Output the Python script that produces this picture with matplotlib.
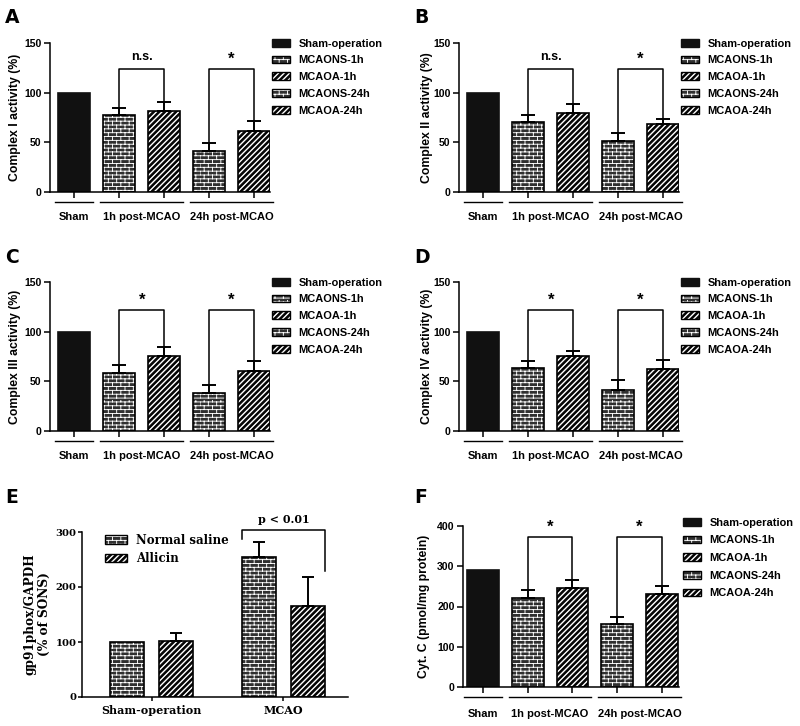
import numpy as np
import matplotlib
matplotlib.use('Agg')
import matplotlib.pyplot as plt
import matplotlib.hatch as mhatch
from matplotlib.path import Path
from matplotlib.patches import Patch

# ---- data ----
series = ['Sham-operation', 'MCAONS-1h', 'MCAOA-1h', 'MCAONS-24h', 'MCAOA-24h']
groups = ['Sham', '1h post-MCAO', '24h post-MCAO']

c1_mean = [100, 78, 82, 41, 61]
c1_err = [0, 7, 9, 8, 10]
c1_sig = ['n.s.', '*']
c1_bracket = [124, 124]

c2_mean = [100, 70, 80, 51, 68]
c2_err = [0, 8, 9, 8, 5]
c2_sig = ['n.s.', '*']
c2_bracket = [124, 124]

c3_mean = [100, 58, 76, 38, 60]
c3_err = [0, 8, 9, 8, 10]
c3_sig = ['*', '*']
c3_bracket = [122, 122]

c4_mean = [100, 63, 76, 41, 62]
c4_err = [0, 7, 5, 10, 9]
c4_sig = ['*', '*']
c4_bracket = [122, 122]

cyt_mean = [291, 222, 245, 156, 231]
cyt_err = [0, 18, 21, 18, 19]
cyt_sig = ['*', '*']
cyt_bracket = [372, 372]

e_groups = ['Sham-operation', 'MCAO']
e_saline = [100, 255]
e_saline_err = [0, 27]
e_allicin = [101, 166]
e_allicin_err = [15, 52]
e_labels = ['Normal saline', 'Allicin']
e_p = 'p < 0.01'
e_bracket = 303


# brick hatch: takes the place of the unused '*' star hatch
class BrickHatch(mhatch.HatchPatternBase):
    rows = 26
    cols = 12

    def __init__(self, hatch, density):
        self.on = '*' in hatch
        self.num_vertices = (self.rows + self.rows * self.cols) * 2 if self.on else 0

    def set_vertices_and_codes(self, vertices, codes):
        k = 0
        for i in range(self.rows):
            y = (i + 0.5) / self.rows
            vertices[k] = (0, y)
            vertices[k + 1] = (1, y)
            k += 2
        for i in range(self.rows):
            y0 = (i + 0.5) / self.rows
            y1 = (i + 1.5) / self.rows
            off = 0.5 / self.cols if i % 2 else 0
            for j in range(self.cols):
                xx = j / self.cols + off
                vertices[k] = (xx, y0)
                vertices[k + 1] = (xx, y1)
                k += 2
        codes[0::2] = Path.MOVETO
        codes[1::2] = Path.LINETO


# thick diagonal stripes (filled bands): takes the place of the 'O' circle hatch
class StripeHatch(mhatch.HatchPatternBase):
    n = 18
    frac = 0.40

    def __init__(self, hatch, density):
        self.on = 'O' in hatch
        self.num_vertices = (2 * self.n + 3) * 5 if self.on else 0

    def set_vertices_and_codes(self, vertices, codes):
        t = self.frac / self.n
        k = 0
        for s in range(-self.n - 1, self.n + 2):
            c0 = s / self.n
            c1 = c0 + t
            vertices[k:k + 5] = [(-0.1, -0.1 + c0), (1.1, 1.1 + c0), (1.1, 1.1 + c1),
                                 (-0.1, -0.1 + c1), (-0.1, -0.1 + c0)]
            codes[k:k + 5] = [Path.MOVETO, Path.LINETO, Path.LINETO, Path.LINETO,
                              Path.CLOSEPOLY]
            k += 5


mhatch._hatch_types[mhatch._hatch_types.index(mhatch.Stars)] = BrickHatch
mhatch._hatch_types[mhatch._hatch_types.index(mhatch.LargeCircles)] = StripeHatch

SANS = ['Liberation Sans', 'DejaVu Sans']
SERIF = ['DejaVu Serif']
plt.rcParams['font.family'] = SANS
plt.rcParams['font.weight'] = 'bold'
plt.rcParams['axes.linewidth'] = 1.1
plt.rcParams['hatch.linewidth'] = 0.65

NS_FACE = '#303030'
kinds = ['sham', 'ns', 'a', 'ns', 'a']


def draw_bar(ax, x, h, kind, width):
    if kind == 'sham':
        ax.bar(x, h, width, color='#111111', edgecolor='#111111', lw=1.2)
    elif kind == 'ns':
        ax.bar(x, h, width, color=NS_FACE, edgecolor='white', lw=0, hatch='*')
        ax.bar(x, h, width, fill=False, edgecolor='k', lw=1.2)
    else:
        ax.bar(x, h, width, color='white', edgecolor='k', lw=1.2, hatch='O')


def legend_handles():
    h_sham = Patch(facecolor='#111111', edgecolor='#111111')
    h_ns = (Patch(facecolor=NS_FACE, edgecolor='white', lw=0, hatch='*'),
            Patch(fill=False, edgecolor='k', lw=1.0))
    h_a = Patch(facecolor='white', edgecolor='k', lw=1.0, hatch='O')
    return h_sham, h_ns, h_a


def style_axes(ax, size=7.6, pad=1.5, length=4.5):
    ax.spines['top'].set_visible(False)
    ax.spines['right'].set_visible(False)
    ax.tick_params(direction='out', length=length, width=1.1, labelsize=size, pad=pad)


def complex_panel(ax, mean, err, sig, brk, ylabel, ymax, step, xlim, lab_x, leg_x, leg_y,
                  leg_sp):
    x = np.arange(len(mean))
    w = 0.71
    for i in range(len(mean)):
        draw_bar(ax, x[i], mean[i], kinds[i], w)
        if err[i] > 0:
            ax.errorbar(x[i], mean[i], yerr=[[0], [err[i]]], fmt='none', ecolor='k',
                        elinewidth=1.4, capsize=4.7, capthick=1.4)
    style_axes(ax)
    ax.set_xlim(*xlim)
    ax.set_ylim(0, ymax)
    ax.set_yticks(np.arange(0, ymax + 1, step))
    ax.set_xticks(x)
    ax.set_xticklabels([])
    ax.set_ylabel(ylabel, fontsize=8.8, fontweight='bold')
    ax.yaxis.set_label_coords(lab_x, 0.5)
    # significance brackets
    pairs = [(1, 2), (3, 4)]
    for (i0, i1), s, yb in zip(pairs, sig, brk):
        ax.plot([x[i0], x[i0], x[i1], x[i1]],
                [mean[i0] + err[i0], yb, yb, mean[i1] + err[i1]], color='k', lw=1.1)
        if s == '*':
            ax.text((x[i0] + x[i1]) / 2, yb + ymax * 0.015, s, ha='center', va='bottom',
                    fontsize=12, fontweight='bold')
        else:
            ax.text((x[i0] + x[i1]) / 2, yb + ymax * 0.04, s, ha='center', va='bottom',
                    fontsize=9, fontweight='bold')
    # group underlines and labels
    tr = ax.get_xaxis_transform()
    spans = [(0, 0), (1, 2), (3, 4)]
    for (i0, i1), g in zip(spans, groups):
        ax.plot([x[i0] - 0.42, x[i1] + 0.42], [-0.065, -0.065], color='k', lw=1.0,
                transform=tr, clip_on=False)
        ax.text((x[i0] + x[i1]) / 2, -0.17, g, transform=tr, ha='center', va='center',
                fontsize=8, fontweight='bold')
    hs, hn, ha = legend_handles()
    ax.legend([hs, hn, ha, hn, ha], series, loc='upper left', bbox_to_anchor=(leg_x, leg_y),
              frameon=False, fontsize=7.9, handlelength=1.65, handleheight=0.7,
              handletextpad=0.75, labelspacing=leg_sp, borderaxespad=0, borderpad=0)


fig = plt.figure(figsize=(8, 7.26), dpi=100)

axA = fig.add_axes([50 / 800, 1 - 192 / 726, 220 / 800, 149 / 726])
complex_panel(axA, c1_mean, c1_err, c1_sig, c1_bracket, 'Complex I activity (%)', 150, 50,
              (-0.54, 4.355), -0.13, 1.01, 1.03, 0.62)
axB = fig.add_axes([459 / 800, 1 - 192 / 726, 220 / 800, 149 / 726])
complex_panel(axB, c2_mean, c2_err, c2_sig, c2_bracket, 'Complex II activity (%)', 150, 50,
              (-0.54, 4.355), -0.12, 1.01, 1.03, 0.62)
axC = fig.add_axes([50 / 800, 1 - 431 / 726, 220 / 800, 149 / 726])
complex_panel(axC, c3_mean, c3_err, c3_sig, c3_bracket, 'Complex III activity (%)', 150, 50,
              (-0.54, 4.355), -0.13, 1.01, 1.03, 0.62)
axD = fig.add_axes([459 / 800, 1 - 431 / 726, 220 / 800, 149 / 726])
complex_panel(axD, c4_mean, c4_err, c4_sig, c4_bracket, 'Complex IV activity (%)', 150, 50,
              (-0.54, 4.355), -0.12, 1.01, 1.03, 0.62)
axF = fig.add_axes([463 / 800, 1 - 687 / 726, 216 / 800, 161 / 726])
complex_panel(axF, cyt_mean, cyt_err, cyt_sig, cyt_bracket, 'Cyt. C (pmol/mg protein)', 400, 100,
              (-0.45, 4.385), -0.155, 1.02, 1.052, 0.7)

# ---- panel E ----
axE = fig.add_axes([82 / 800, 1 - 697 / 726, 266 / 800, 165 / 726])
xe = np.arange(len(e_groups))
we = 0.254
off = 0.186
for i in range(len(xe)):
    draw_bar(axE, xe[i] - off, e_saline[i], 'ns', we)
    draw_bar(axE, xe[i] + off, e_allicin[i], 'a', we)
    if e_saline_err[i] > 0:
        axE.errorbar(xe[i] - off, e_saline[i], yerr=[[0], [e_saline_err[i]]], fmt='none',
                     ecolor='k', elinewidth=1.4, capsize=4.5, capthick=1.4)
    if e_allicin_err[i] > 0:
        axE.errorbar(xe[i] + off, e_allicin[i], yerr=[[0], [e_allicin_err[i]]], fmt='none',
                     ecolor='k', elinewidth=1.4, capsize=4.5, capthick=1.4)
style_axes(axE, 7.2, pad=0.8, length=3)
axE.set_xlim(-0.527, 1.49)
axE.set_ylim(0, 300)
axE.set_yticks([0, 100, 200, 300])
axE.set_xticks(xe)
axE.set_xticklabels(e_groups, family=SERIF, fontsize=8, fontweight='bold')
axE.tick_params(axis='x', pad=3)
for t in axE.get_yticklabels():
    t.set_family(SERIF)
axE.set_ylabel('gp91phox/GAPDH\n(% of SONS)', family=SERIF, fontsize=8.7, fontweight='bold')
axE.yaxis.set_label_coords(-0.115, 0.5)
# bracket
bx0 = xe[1] - off - we / 2
bx1 = xe[1] + off + we / 2
axE.plot([bx0, bx0, bx1, bx1], [e_saline[1] + e_saline_err[1] + 6, e_bracket, e_bracket,
                                 e_allicin[1] + e_allicin_err[1] + 12],
         color='k', lw=1.1, clip_on=False)
axE.text(xe[1], e_bracket + 10, e_p, ha='center', va='bottom', family=SERIF,
         fontsize=8, fontweight='bold')
_, hn, ha = legend_handles()
axE.legend([hn, ha], e_labels, loc='upper left', bbox_to_anchor=(0.085, 0.99),
           frameon=False, prop={'family': SERIF, 'size': 8.5, 'weight': 'bold'},
           handlelength=1.9, handleheight=0.75, handletextpad=0.8, labelspacing=0.45,
           borderaxespad=0, borderpad=0)

# panel letters
for lab, px, py in [('A', 5, 8), ('B', 414, 8), ('C', 5, 248), ('D', 414, 248),
                    ('E', 5, 488), ('F', 414, 488)]:
    fig.text(px / 800, 1 - py / 726, lab, fontsize=13.5, fontweight='bold',
             family=['DejaVu Sans'], ha='left', va='top')

fig.savefig('out.png', dpi=100)
